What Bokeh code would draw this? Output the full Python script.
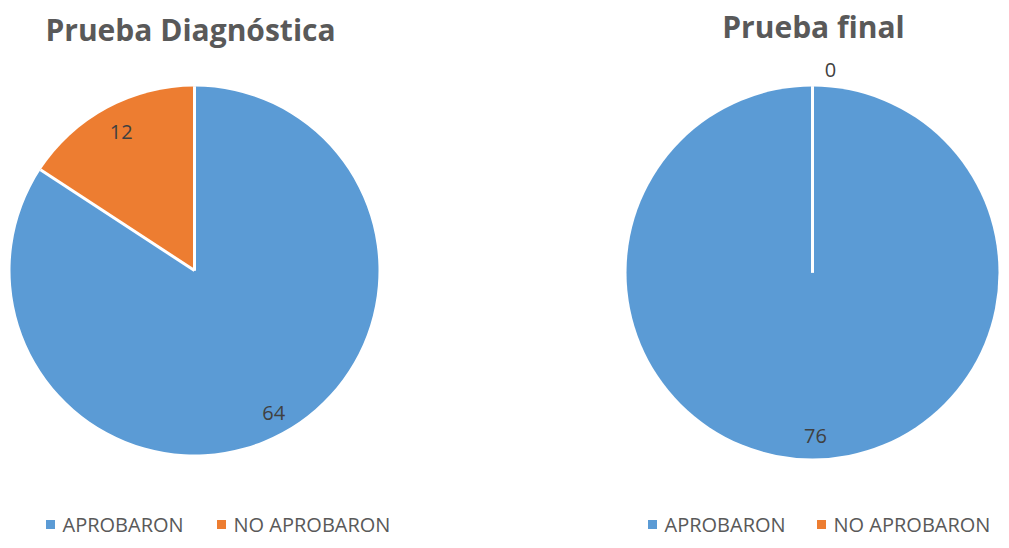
import math
from bokeh.plotting import figure
from bokeh.models import Range1d
from bokeh.core.properties import value
from bokeh.embed import file_html
from bokeh.resources import INLINE

categories = ["APROBARON", "NO APROBARON"]
colors = ["#5B9BD5", "#ED7D31"]
titles = ["Prueba Diagnóstica", "Prueba final"]
diag_values = [64, 12]
final_values = [76, 0]

FONT = "Open Sans"
W, H = 1001, 540
p = figure(width=W, height=H, output_backend="svg", toolbar_location=None,
           x_range=Range1d(0, W), y_range=Range1d(-H, 0),
           min_border=0, outline_line_color=None)
p.axis.visible = False
p.grid.visible = False
p.background_fill_color = "white"
p.border_fill_color = "white"

LEG_Y = 524
pies = [
    dict(vals=diag_values, title=titles[0], cx=194, cy=270, r=184, tx=190, ty=29,
         legend_x=[50, 221]),
    dict(vals=final_values, title=titles[1], cx=812, cy=272, r=186, tx=813, ty=26,
         legend_x=[652, 821]),
]

for pie in pies:
    vals = pie["vals"]
    total = float(sum(vals))
    cx, cy, r = pie["cx"], pie["cy"], pie["r"]
    cum = 0.0
    boundaries = [math.pi / 2]
    for v, col in zip(vals, colors):
        a0 = math.pi / 2 - 2 * math.pi * cum / total
        a1 = math.pi / 2 - 2 * math.pi * (cum + v) / total
        if v > 0:
            if v == total:
                p.scatter(x=[cx], y=[-cy], size=2 * r, marker="circle",
                          fill_color=col, line_color=None)
            else:
                p.wedge(x=[cx], y=[-cy], radius=r, radius_units="screen",
                        start_angle=a0, end_angle=a1, direction="clock",
                        fill_color=col, line_color=None)
        cum += v
        boundaries.append(a1)
    # white separators
    for a in boundaries:
        p.segment(x0=[cx], y0=[-cy], x1=[cx + r * math.cos(a)],
                  y1=[-cy + r * math.sin(a)], line_color="white", line_width=3)
    # data labels
    cum = 0.0
    for v in vals:
        a0 = math.pi / 2 - 2 * math.pi * cum / total
        a1 = math.pi / 2 - 2 * math.pi * (cum + v) / total
        mid = (a0 + a1) / 2
        if v > 0:
            lr, xo = 0.87 * r, 0
        else:
            lr, xo = 1.09 * r, 18
        lx = cx + lr * math.cos(mid) + xo + (3 if v > 0 else 0)
        ly = cy - lr * math.sin(mid) + (2 if v > 0 else 0)
        p.text(x=[lx], y=[-ly], text=[str(v)], text_align="center",
               text_baseline="middle", text_font=value(FONT),
               text_font_size="20px", text_color="#404040")
        cum += v
    # title
    p.text(x=[pie["tx"]], y=[-pie["ty"]], text=[pie["title"]], text_align="center",
           text_baseline="middle", text_font=value(FONT), text_font_style="bold",
           text_font_size="30px", text_color="#595959")
    # legend
    for lxp, cat, col in zip(pie["legend_x"], categories, colors):
        p.scatter(x=[lxp], y=[-LEG_Y], marker="square", size=9,
                  fill_color=col, line_color=None)
        p.text(x=[lxp + 12], y=[-LEG_Y], text=[cat], text_align="left",
               text_baseline="middle", text_font=value(FONT),
               text_font_size="20px", text_color="#595959")

open("out.html", "w").write(file_html(p, INLINE))
